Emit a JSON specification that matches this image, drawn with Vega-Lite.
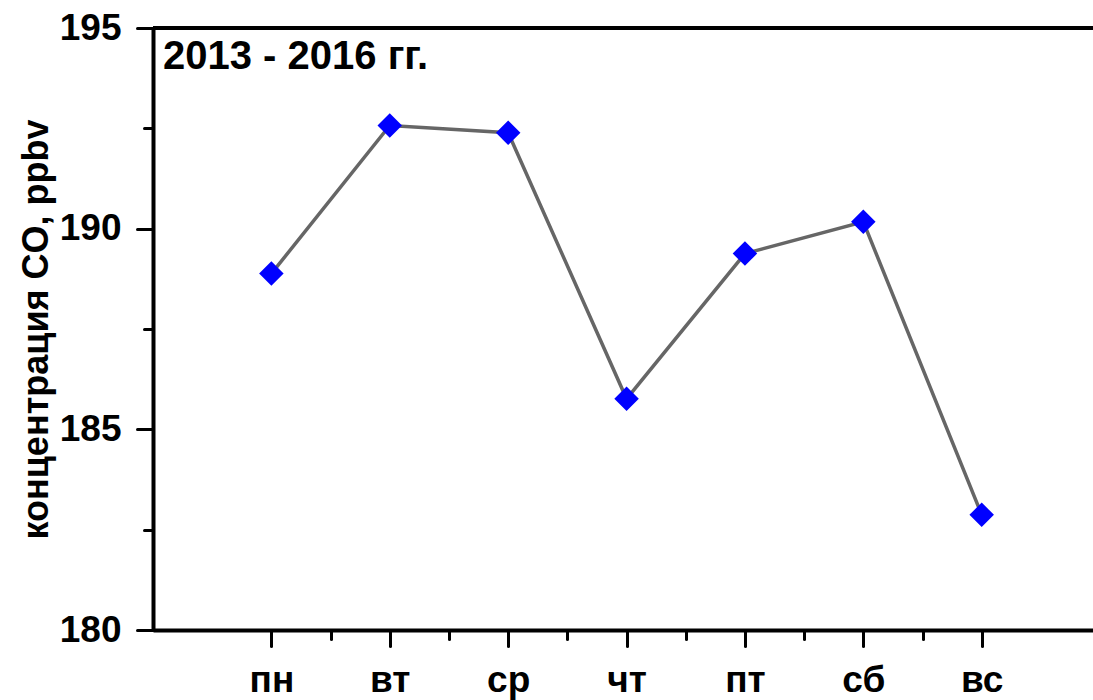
{
  "$schema": "https://vega.github.io/schema/vega-lite/v6.json",
  "width": 940,
  "height": 602,
  "autosize": {"type": "none"},
  "padding": {"left": 153, "top": 28, "right": 0, "bottom": 70},
  "background": "white",
  "config": {
    "view": {"stroke": null},
    "font": "Liberation Sans",
    "axis": {
      "domainColor": "black",
      "domainWidth": 4,
      "tickColor": "black",
      "tickWidth": 3,
      "tickCap": "round",
      "grid": false,
      "labelColor": "black",
      "labelFont": "Liberation Sans",
      "labelFontWeight": "bold",
      "labelOverlap": false,
      "labelFlush": false,
      "titleColor": "black",
      "titleFont": "Liberation Sans",
      "titleFontWeight": "bold"
    }
  },
  "title": {
    "text": "2013 - 2016 гг.",
    "anchor": "start",
    "frame": "group",
    "orient": "top",
    "offset": -68,
    "dx": 10,
    "baseline": "top",
    "font": "Liberation Sans",
    "fontSize": 40,
    "fontWeight": "bold",
    "color": "black"
  },
  "data": {
    "values": [
      {"day": "пн", "n": 1, "co": 188.88},
      {"day": "вт", "n": 2, "co": 192.57},
      {"day": "ср", "n": 3, "co": 192.39},
      {"day": "чт", "n": 4, "co": 185.76},
      {"day": "пт", "n": 5, "co": 189.38},
      {"day": "сб", "n": 6, "co": 190.17},
      {"day": "вс", "n": 7, "co": 182.87}
    ]
  },
  "encoding": {
    "x": {
      "field": "n",
      "type": "quantitative",
      "scale": {"domain": [0, 7.94], "nice": false, "zero": false},
      "axis": {
        "title": null,
        "values": [1, 1.5, 2, 2.5, 3, 3.5, 4, 4.5, 5, 5.5, 6, 6.5, 7],
        "labelExpr": "datum.value % 1 === 0 ? ['', 'пн', 'вт', 'ср', 'чт', 'пт', 'сб', 'вс'][datum.value] : ''",
        "tickSize": {"condition": {"test": "datum.value % 1 === 0", "value": 16}, "value": 9},
        "labelFontSize": 37,
        "labelPadding": 16
      }
    },
    "y": {
      "field": "co",
      "type": "quantitative",
      "scale": {"domain": [180, 195], "nice": false, "zero": false},
      "axis": {
        "title": "концентрация CO, ppbv",
        "titleFontSize": 36,
        "titlePadding": 4,
        "values": [180, 182.5, 185, 187.5, 190, 192.5, 195],
        "labelExpr": "datum.value % 5 === 0 ? datum.label : ''",
        "tickSize": {"condition": {"test": "datum.value % 5 === 0", "value": 16}, "value": 9},
        "labelFontSize": 37,
        "labelPadding": 16
      }
    }
  },
  "layer": [
    {
      "mark": {"type": "line", "color": "#666666", "strokeWidth": 3.5}
    },
    {
      "mark": {"type": "point", "shape": "diamond", "filled": true, "color": "#0000ff", "opacity": 1, "size": 600}
    },
    {
      "mark": {"type": "rule", "color": "black", "strokeWidth": 4},
      "encoding": {"x": null, "y": {"datum": 195}}
    }
  ]
}
